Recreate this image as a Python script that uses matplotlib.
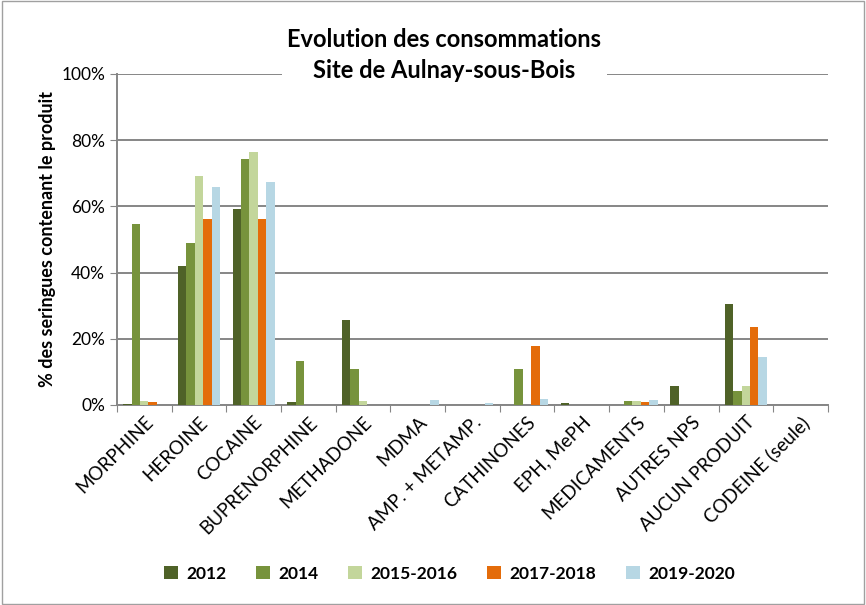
import numpy as np
import matplotlib
matplotlib.use('Agg')
import matplotlib.pyplot as plt
from matplotlib.patches import Rectangle

plt.rcParams['font.family'] = ['Lato', 'DejaVu Sans']

categories = ['MORPHINE', 'HEROINE', 'COCAINE', 'BUPRENORPHINE', 'METHADONE', 'MDMA',
              'AMP. + METAMP.', 'CATHINONES', 'EPH, MePH', 'MEDICAMENTS', 'AUTRES NPS',
              'AUCUN PRODUIT', 'CODEINE (seule)']
series = ['2012', '2014', '2015-2016', '2017-2018', '2019-2020']
v2012 = [0.4, 42.1, 59.2, 0.9, 25.7, 0, 0, 0, 0.5, 0, 5.6, 30.4, 0]
v2014 = [54.6, 48.9, 74.4, 13.3, 11.0, 0, 0, 11.0, 0, 1.1, 0, 4.2, 0]
v2015 = [1.2, 69.2, 76.5, 0, 1.3, 0, 0, 0, 0, 1.3, 0, 5.8, 0]
v2017 = [0.9, 56.3, 56.3, 0, 0, 0, 0, 17.8, 0, 0.9, 0, 23.7, 0]
v2019 = [0, 65.9, 67.4, 0, 0, 1.6, 0.7, 1.8, 0, 1.5, 0, 14.5, 0]
colors = ['#4F6228', '#77933C', '#C3D69B', '#E46C0A', '#B7D7E4']

fig = plt.figure(figsize=(8.66, 6.05), dpi=100)
fig.patches.append(Rectangle((0.002, 0.002), 0.996, 0.996, transform=fig.transFigure,
                             fill=False, edgecolor='#a0a0a0', linewidth=1))
ax = fig.add_axes([0.135, 0.3306, 0.821, 0.5471])

x = np.arange(len(categories))
w = 0.154
data = [v2012, v2014, v2015, v2017, v2019]
for i, (vals, c, lab) in enumerate(zip(data, colors, series)):
    ax.bar(x + (i - 2) * w, vals, width=w, color=c, label=lab, zorder=3)

ax.set_xlim(-0.5, len(categories) - 0.5)
ax.set_ylim(0, 100)
ax.set_yticks(np.arange(0, 101, 20))
ax.set_yticklabels([f'{v}%' for v in range(0, 101, 20)], fontsize=12.5)
ax.yaxis.grid(True, color='#868686', linewidth=1.4, zorder=0)
ax.set_xticks(np.arange(-0.5, len(categories), 1), minor=False)
ax.set_xticklabels([])
ax.set_xticks(x, minor=True)
ax.set_xticklabels(categories, minor=True, rotation=45, ha='right',
                   rotation_mode='anchor', fontsize=13.5)
ax.tick_params(axis='x', which='minor', length=0, pad=6)
ax.tick_params(axis='x', which='major', length=5, color='#868686')
ax.tick_params(axis='y', length=5, color='#868686')
for s in ['top', 'right']:
    ax.spines[s].set_visible(False)
for s in ['left', 'bottom']:
    ax.spines[s].set_color('#868686')
    ax.spines[s].set_linewidth(1.4)

ax.set_ylabel('% des seringues contenant le produit', fontsize=13, fontweight='bold')

fig.text(0.513, 0.909, 'Evolution des consommations\nSite de Aulnay-sous-Bois',
         ha='center', va='center', fontsize=17, fontweight='bold', linespacing=1.45,
         bbox=dict(facecolor='white', edgecolor='none', pad=4))

fig.legend(loc='center', bbox_to_anchor=(0.519, 0.052), ncol=5, frameon=False,
           prop={'size': 12.5, 'weight': 'bold'}, handlelength=0.8, handleheight=0.8,
           columnspacing=1.7, handletextpad=0.5)

fig.savefig('out.png', dpi=100)
